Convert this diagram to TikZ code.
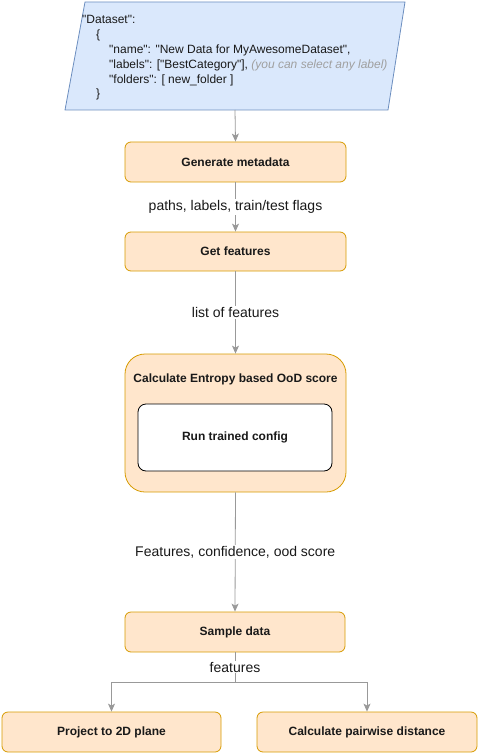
\documentclass[tikz,border=0pt]{standalone}
\usepackage{fontspec}
\setmainfont{Liberation Sans}[Ligatures=TeXOff]
\usetikzlibrary{arrows.meta}
\definecolor{ofill}{HTML}{FFE6CC}
\definecolor{ostroke}{HTML}{D79B00}
\definecolor{bfill}{HTML}{DAE8FC}
\definecolor{bstroke}{HTML}{6C8EBF}
\definecolor{lgray}{HTML}{999999}
\definecolor{tgray}{HTML}{A0A0A0}
\tikzset{
  obox/.style={draw=ostroke, fill=ofill, rounded corners=6pt, line width=0.8pt, font=\fontsize{12}{14}\selectfont\bfseries, text=black!90},
  jtxt/.style={anchor=base west, inner sep=0pt, font=\fontsize{12}{14}\selectfont, text=black!90},
  elab/.style={fill=white, inner sep=1pt, font=\fontsize{14}{16}\selectfont, text=black!90},
  conn/.style={draw=lgray, line width=0.8pt, -{Stealth[length=8pt,width=7pt,inset=2pt]}},
  line/.style={draw=lgray, line width=0.8pt}
}
\begin{document}
\begin{tikzpicture}[x=1pt,y=-1pt]
\useasboundingbox (0,0) rectangle (478,754);
% input parallelogram
\draw[draw=bstroke, fill=bfill, line width=0.8pt] (85,2) -- (405,2) -- (388,110) -- (65,110) -- cycle;
\coordinate (in) at (235,110);
\node[jtxt] (j1) at (82,24) {"Dataset":};
\node[jtxt] (j2) at (96,38.5) {\{};
\node[jtxt] (j3) at (109,53.5) {"name": "New Data for MyAwesomeDataset",};
\node[jtxt] (j4) at (109,68.5) {"labels": ["BestCategory"], \textcolor{tgray}{\itshape (you can select any label)}};
\node[jtxt] (j5) at (109,83.5) {"folders": [ new\_folder ]};
\node[jtxt] (j6) at (96,97.5) {\}};
% boxes
\node[obox, minimum width=221pt, minimum height=40pt] (gen) at (235.5,162) {Generate metadata};
\node[obox, minimum width=221pt, minimum height=39pt] (get) at (235.5,251.5) {Get features};
\node[obox, rounded corners=20pt, minimum width=221pt, minimum height=138pt] (ent) at (235.5,423) {};
\node[inner sep=0pt, font=\fontsize{12}{14}\selectfont\bfseries, text=black!90] (entt) at (235.5,379) {Calculate Entropy based OoD score};
\node[draw=black, fill=white, rounded corners=8pt, line width=0.8pt, minimum width=194pt, minimum height=67pt, font=\fontsize{12}{14}\selectfont\bfseries, text=black!90] (run) at (235,437.5) {Run trained config};
\node[obox, minimum width=220pt, minimum height=40pt] (samp) at (235,632) {Sample data};
\node[obox, minimum width=219pt, minimum height=40pt] (proj) at (111.5,732) {Project to 2D plane};
\node[obox, minimum width=220pt, minimum height=40pt] (pair) at (367,732) {Calculate pairwise distance};
% connectors
\draw[conn] (in) -- (gen.north);
\draw[conn] (gen.south) -- node[elab] (l1) {paths, labels, train/test flags} (get.north);
\draw[conn] (get.south) -- node[elab] (l2) {list of features} (ent.north);
\draw[conn] (ent.south) -- node[elab] (l3) {Features, confidence, ood score} (samp.north);
\coordinate (split) at (235,682);
\draw[line] (samp.south) -- node[elab, pos=0.5] (l4) {features} (split);
\draw[conn] (split) -| (proj.north);
\draw[conn] (split) -| (pair.north);
\end{tikzpicture}
\end{document}
